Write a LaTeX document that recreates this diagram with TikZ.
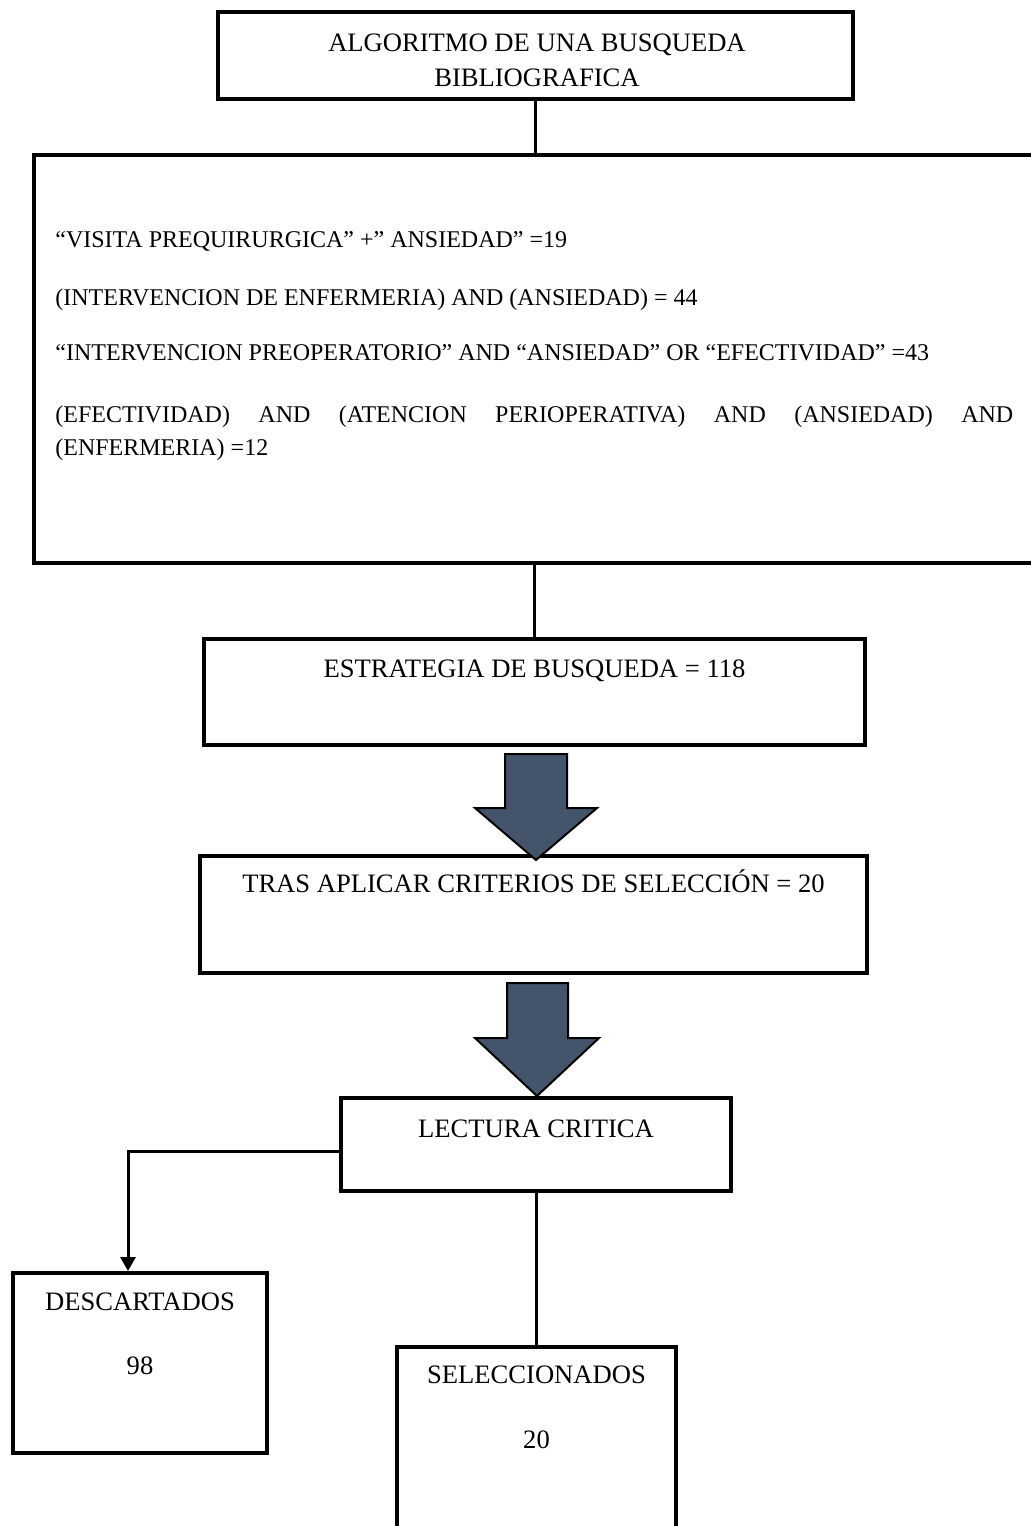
\documentclass[tikz,border=0pt]{standalone}
\usepackage{fontspec}
\setmainfont{Liberation Serif}
\usetikzlibrary{arrows.meta}
\definecolor{arrowfill}{RGB}{68,84,106}
\tikzset{
  boxline/.style={draw=black, line width=2pt, fill=white, inner sep=0pt},
  conn/.style={draw=black, line width=1.5pt},
  ttl/.style={font=\fontsize{13.3}{17.5}\selectfont, inner sep=0pt},
  bodytext/.style={font=\fontsize{12}{14}\selectfont, inner sep=0pt, anchor=base west},
  blockarrow/.style={fill=arrowfill, draw=black, line width=1pt, line join=miter}
}
\begin{document}
\begin{tikzpicture}[x=0.5pt,y=-0.5pt]
\useasboundingbox (0,0) rectangle (1031,1526);
\clip (0,0) rectangle (1031,1526);
\fill[white] (0,0) rectangle (1031,1526);

% boxes
\node[boxline, minimum width=317.5pt, minimum height=43.5pt] (top) at (535.5,55.5) {};
\node[boxline, minimum width=506pt, minimum height=204pt] (big) at (540,359) {};
\node[boxline, minimum width=330.5pt, minimum height=53pt] (est) at (534.5,692) {};
\node[boxline, minimum width=333.5pt, minimum height=58.5pt] (tras) at (533.5,914.5) {};
\node[boxline, minimum width=195pt, minimum height=46.5pt] (lect) at (536,1144.5) {};
\node[boxline, minimum width=127pt, minimum height=90pt] (desc) at (140,1363) {};
\node[boxline, minimum width=139.5pt, minimum height=106.5pt] (sel) at (536.5,1453.5) {};

% connectors
\draw[conn] (top.south) -- (top.south |- big.north);
\draw[conn] (est.north |- big.south) -- (est.north);
\draw[conn, -{Triangle[width=7.5pt,length=7pt]}] ([yshift=-3.25pt]lect.west) -| ([xshift=-6pt]desc.north);
\draw[conn] (lect.south) -- (lect.south |- sel.north);

% block arrows
\draw[blockarrow] (505,754) -- (567,754) -- (567,808) -- (597,808) -- (536,860) -- (475,808) -- (505,808) -- cycle;
\draw[blockarrow] (507,983) -- (568,983) -- (568,1038) -- (599,1038) -- (537,1096) -- (475,1038) -- (507,1038) -- cycle;

% texts
\node[ttl, align=center, anchor=center] (ttop) at (537,60) {ALGORITMO DE UNA BUSQUEDA\\BIBLIOGRAFICA};

\node[bodytext] (t1) at (55,247.5) {“VISITA PREQUIRURGICA” +” ANSIEDAD” =19};
\node[bodytext] (t2) at (55,305.5) {(INTERVENCION DE ENFERMERIA) AND (ANSIEDAD) = 44};
\node[bodytext] (t3) at (55,360.5) {“INTERVENCION PREOPERATORIO” AND “ANSIEDAD” OR “EFECTIVIDAD” =43};
\node[bodytext] (t4) at (55,422.5) {\makebox[479pt][l]{(EFECTIVIDAD)\hfill AND\hfill (ATENCION\hfill PERIOPERATIVA)\hfill AND\hfill (ANSIEDAD)\hfill AND}};
\node[bodytext] (t5) at (55,455.5) {(ENFERMERIA) =12};

\node[ttl, anchor=base] (test) at (534.5,677) {ESTRATEGIA DE BUSQUEDA = 118};
\node[ttl, anchor=base] (ttras) at (533.5,892) {TRAS APLICAR CRITERIOS DE SELECCIÓN = 20};
\node[ttl, anchor=base] (tlect) at (536,1137) {LECTURA CRITICA};
\node[ttl, anchor=base] (tdesc) at (140,1310) {DESCARTADOS};
\node[ttl, anchor=base] (ndesc) at (140,1374) {98};
\node[ttl, anchor=base] (tsel) at (536.5,1383) {SELECCIONADOS};
\node[ttl, anchor=base] (nsel) at (536.5,1448) {20};
\end{tikzpicture}
\end{document}
